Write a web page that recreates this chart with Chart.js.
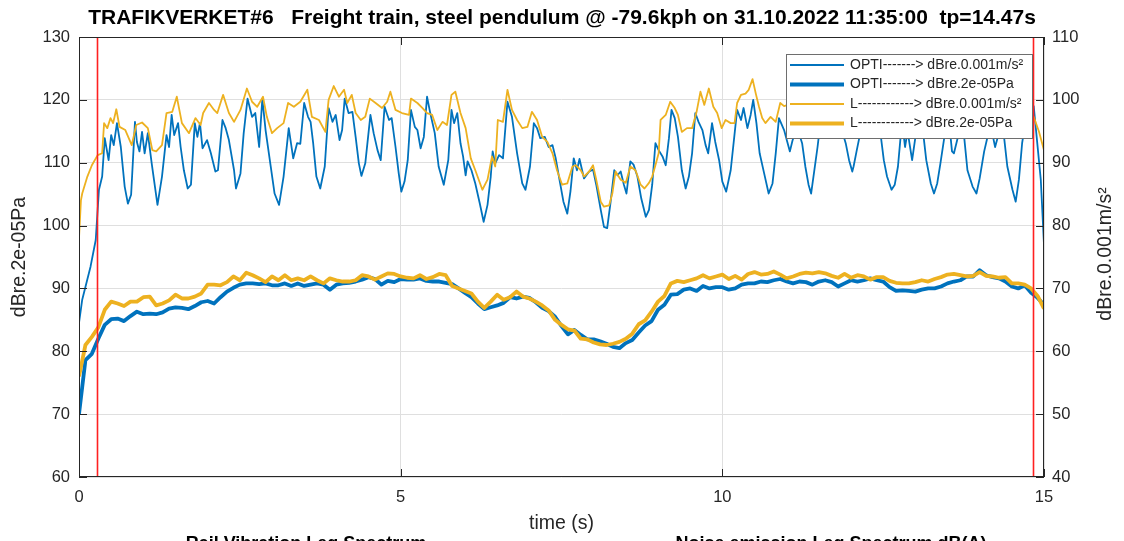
<!DOCTYPE html>
<html>
<head>
<meta charset="utf-8">
<script src="https://cdn.jsdelivr.net/npm/chart.js@4.4.1/dist/chart.umd.min.js"></script>
<style>
html, body { margin: 0; padding: 0; background: #fff; }
</style>
</head>
<body>
<canvas id="myChart" width="1124" height="541"></canvas>
<script>
// time step of the acoustic (left axis) traces, s
var dt = 0.1;

// OPTI, dBre.2e-05Pa (left axis), one value every 0.1 s from 0 to 15 s
var optiPa = [
    70.0, 78.6, 79.6, 82.0, 84.2, 85.1, 85.2, 84.8, 85.6, 86.3,
    85.9, 86.0, 85.9, 86.2, 86.8, 87.0, 86.9, 86.7, 87.2, 87.8,
    88.0, 87.6, 88.6, 89.5, 90.1, 90.6, 90.8, 90.8, 90.7, 90.8,
    90.5, 90.5, 90.8, 90.4, 90.8, 90.4, 90.6, 90.8, 90.6, 89.8,
    90.6, 90.8, 90.9, 91.1, 91.4, 91.8, 91.5, 90.6, 91.2, 91.0,
    91.5, 91.4, 91.4, 91.6, 91.2, 91.1, 91.1, 90.9, 90.7, 90.0,
    89.3, 88.6, 87.6, 86.7, 87.0, 87.3, 87.7, 88.6, 88.4, 88.7,
    88.5, 87.8, 86.9, 86.4, 85.5, 84.0, 82.7, 83.4, 82.6, 81.9,
    81.9, 81.6, 81.2, 80.7, 80.5, 81.3, 81.8, 83.0, 84.1, 84.8,
    86.6, 87.4, 89.0, 89.1, 89.8, 90.0, 89.6, 90.4, 90.0, 90.2,
    90.2, 89.8, 90.0, 90.6, 90.8, 90.8, 91.1, 91.0, 91.3, 91.5,
    91.1, 90.8, 91.1, 91.0, 90.6, 91.1, 91.3, 91.0, 90.3, 90.8,
    91.3, 91.1, 91.3, 91.6, 91.3, 91.1, 90.2, 89.6, 89.7, 89.6,
    89.5, 89.8, 90.0, 90.0, 90.3, 90.8, 91.1, 91.3, 91.9, 91.9,
    92.9, 92.1, 91.8, 91.6, 91.1, 90.3, 90.0, 90.5, 89.3, 88.5,
    87.4
];

// L, dBre.2e-05Pa (left axis), one value every 0.1 s
var lPa = [
    76.0, 81.0, 82.3, 83.8, 86.6, 87.9, 87.6, 87.2, 87.9, 87.9,
    88.6, 88.7, 87.3, 87.6, 88.1, 89.0, 88.4, 88.4, 88.7, 89.2,
    90.6, 90.6, 90.5, 91.0, 91.9, 91.3, 92.5, 92.1, 91.6, 91.0,
    91.9, 91.3, 92.1, 91.3, 91.6, 91.3, 91.9, 91.3, 90.8, 91.6,
    91.3, 91.1, 91.1, 91.3, 92.1, 91.9, 91.4, 91.9, 92.4, 92.3,
    91.9, 91.7, 91.6, 92.1, 91.5, 91.8, 92.3, 92.1, 90.4, 90.0,
    89.6, 89.2, 87.9, 86.9, 87.9, 89.0, 88.2, 88.6, 89.5, 88.7,
    88.4, 87.9, 87.3, 86.5, 85.0, 84.2, 83.5, 83.3, 82.0, 81.9,
    81.4, 81.1, 81.0, 81.2, 81.5, 82.0, 82.8, 84.3, 84.9, 86.3,
    87.9, 88.8, 90.8, 91.2, 91.0, 91.3, 91.6, 92.1, 91.6, 91.9,
    92.2, 91.5, 92.0, 91.4, 92.3, 92.6, 92.2, 92.3, 92.7, 92.2,
    91.6, 91.9, 92.3, 92.5, 92.4, 92.6, 92.4, 92.0, 91.7, 92.3,
    91.7, 92.1, 91.9, 91.4, 91.8, 91.8, 91.2, 90.9, 90.8, 90.8,
    91.0, 91.3, 91.1, 91.5, 91.8, 92.2, 92.3, 92.1, 91.9, 92.0,
    92.6, 92.0, 91.9, 91.7, 91.8, 90.8, 90.8, 90.6, 90.0, 88.8,
    86.8
];

// OPTI, dBre.0.001m/s² (right axis), [time s, level]
var optiVib = [
    [0.00,64.5],[0.05,68.2],[0.18,73.5],[0.26,77.7],[0.31,85.7],[0.36,87.8],[0.40,93.9],[0.46,90.4],
    [0.50,94.4],[0.54,92.8],[0.59,96.3],[0.65,92.5],[0.71,86.2],[0.76,83.5],[0.81,84.9],[0.87,96.5],
    [0.90,93.3],[0.94,91.8],[0.98,94.9],[1.02,91.5],[1.07,94.7],[1.13,89.9],[1.22,83.3],[1.29,87.8],
    [1.36,94.4],[1.40,92.5],[1.44,97.6],[1.48,94.4],[1.54,96.3],[1.58,92.5],[1.63,88.8],[1.69,85.9],
    [1.74,86.5],[1.80,96.3],[1.84,94.1],[1.88,96.3],[1.92,92.3],[1.99,93.6],[2.05,91.5],[2.12,88.6],
    [2.16,88.8],[2.23,96.8],[2.28,95.5],[2.33,93.6],[2.41,88.8],[2.44,85.9],[2.51,88.3],[2.56,94.7],
    [2.62,100.2],[2.69,97.3],[2.74,97.9],[2.80,92.5],[2.85,100.2],[2.90,95.2],[2.98,89.4],[3.04,85.1],
    [3.11,83.3],[3.18,87.8],[3.26,95.5],[3.33,90.7],[3.39,93.1],[3.44,93.0],[3.50,99.5],[3.56,97.3],
    [3.60,96.5],[3.64,93.1],[3.69,87.8],[3.75,85.9],[3.82,89.4],[3.88,98.7],[3.94,96.5],[3.99,97.6],
    [4.05,93.6],[4.09,95.2],[4.13,100.2],[4.19,97.9],[4.25,98.1],[4.30,94.1],[4.35,89.9],[4.39,87.9],
    [4.45,89.9],[4.53,97.6],[4.58,94.7],[4.64,92.0],[4.69,90.4],[4.75,98.9],[4.82,96.8],[4.86,97.1],
    [4.92,92.5],[4.97,88.3],[5.01,85.4],[5.06,87.0],[5.11,90.4],[5.16,98.4],[5.22,95.7],[5.26,95.2],
    [5.31,92.3],[5.36,94.1],[5.41,100.5],[5.46,97.9],[5.53,94.7],[5.59,89.4],[5.67,86.5],[5.74,90.4],
    [5.79,98.4],[5.83,96.3],[5.88,97.9],[5.93,93.1],[5.97,91.0],[6.01,88.0],[6.04,90.2],[6.10,88.8],
    [6.16,86.7],[6.23,83.5],[6.29,80.6],[6.35,83.3],[6.40,87.8],[6.43,91.8],[6.47,89.9],[6.53,91.2],
    [6.59,90.7],[6.66,99.7],[6.73,97.3],[6.81,91.5],[6.89,86.7],[6.94,85.7],[7.01,89.4],[7.07,96.3],
    [7.12,95.5],[7.17,93.9],[7.24,94.1],[7.30,92.5],[7.36,92.8],[7.41,90.7],[7.46,87.8],[7.53,83.8],
    [7.59,81.9],[7.64,85.5],[7.69,90.7],[7.74,88.8],[7.78,90.6],[7.85,87.5],[7.93,88.6],[7.99,88.9],
    [8.04,86.5],[8.11,82.5],[8.16,79.8],[8.21,79.6],[8.26,83.5],[8.32,88.8],[8.37,88.0],[8.42,88.6],
    [8.47,86.5],[8.51,85.1],[8.57,90.2],[8.62,89.7],[8.68,87.8],[8.74,84.3],[8.81,81.4],[8.86,82.5],
    [8.91,86.5],[8.96,93.1],[9.01,92.0],[9.07,91.0],[9.12,89.6],[9.17,93.9],[9.21,98.4],[9.26,97.1],
    [9.31,94.1],[9.37,88.8],[9.43,85.9],[9.48,87.8],[9.53,91.5],[9.58,97.9],[9.63,96.5],[9.69,95.2],
    [9.74,92.8],[9.78,91.5],[9.84,96.3],[9.89,93.3],[9.95,90.4],[10.00,87.0],[10.06,85.4],[10.13,88.8],
    [10.18,93.6],[10.23,98.4],[10.29,96.8],[10.33,98.7],[10.39,95.5],[10.44,97.6],[10.48,100.0],[10.53,96.3],
    [10.58,91.5],[10.65,88.3],[10.72,85.1],[10.78,86.7],[10.83,91.5],[10.88,97.1],[10.96,95.2],[11.01,93.3],
    [11.05,91.8],[11.09,93.5],[11.16,95.7],[11.24,93.1],[11.29,89.4],[11.34,86.5],[11.38,85.1],[11.43,88.8],
    [11.48,92.5],[11.53,96.8],[11.62,98.0],[11.72,95.0],[11.82,96.5],[11.92,93.0],[11.97,90.4],[12.02,88.6],
    [12.04,89.4],[12.09,92.0],[12.14,94.5],[12.30,98.0],[12.46,94.5],[12.51,90.4],[12.56,87.8],[12.63,85.7],
    [12.68,86.5],[12.73,89.4],[12.77,94.0],[12.80,96.0],[12.84,92.5],[12.88,95.0],[12.95,90.4],[13.00,94.0],
    [13.07,97.0],[13.13,94.0],[13.17,90.4],[13.24,86.7],[13.29,85.1],[13.34,86.7],[13.39,89.9],[13.45,94.0],
    [13.52,97.0],[13.57,91.8],[13.60,91.5],[13.66,94.0],[13.72,97.0],[13.76,94.0],[13.81,88.8],[13.89,86.2],
    [13.95,85.1],[14.00,87.5],[14.07,91.8],[14.12,94.0],[14.17,96.0],[14.21,94.0],[14.24,92.5],[14.28,94.0],
    [14.33,97.0],[14.38,94.0],[14.43,89.4],[14.51,85.7],[14.56,83.8],[14.61,87.3],[14.66,93.1],[14.72,97.0],
    [14.80,98.5],[14.84,99.0],[14.95,87.3],[15.00,77.0]
];

// L, dBre.0.001m/s² (right axis), [time s, level]
var lVib = [
    [0.00,78.0],[0.03,84.0],[0.05,85.1],[0.13,87.8],[0.20,89.6],[0.29,91.2],[0.36,91.5],[0.39,96.3],
    [0.44,95.5],[0.49,97.1],[0.53,96.3],[0.58,98.5],[0.63,95.7],[0.72,95.2],[0.82,92.8],[0.89,96.0],
    [0.98,96.4],[1.07,95.5],[1.14,92.0],[1.20,91.8],[1.29,92.8],[1.36,97.9],[1.45,98.1],[1.52,100.5],
    [1.60,96.3],[1.71,94.7],[1.81,97.1],[1.89,96.0],[1.93,97.9],[2.02,99.5],[2.10,98.4],[2.15,97.9],
    [2.24,100.8],[2.33,97.9],[2.41,96.5],[2.51,98.4],[2.61,101.8],[2.69,99.7],[2.77,98.9],[2.86,100.5],
    [2.92,97.3],[3.00,94.7],[3.08,95.5],[3.18,96.3],[3.25,99.5],[3.34,98.9],[3.44,99.7],[3.55,101.6],
    [3.62,97.3],[3.73,96.8],[3.83,94.9],[3.88,100.0],[3.96,102.2],[4.04,100.5],[4.12,101.6],[4.17,99.5],
    [4.24,100.8],[4.30,97.9],[4.38,96.8],[4.45,97.3],[4.52,100.2],[4.61,99.5],[4.71,98.7],[4.79,99.7],
    [4.84,101.3],[4.92,98.4],[5.02,97.9],[5.13,97.6],[5.16,100.2],[5.26,99.5],[5.34,98.7],[5.41,97.9],
    [5.49,97.6],[5.57,95.2],[5.65,96.5],[5.72,96.0],[5.79,100.8],[5.85,101.3],[5.93,97.9],[6.01,95.5],
    [6.09,90.7],[6.16,88.8],[6.27,85.7],[6.35,87.3],[6.42,91.0],[6.47,89.4],[6.51,96.8],[6.59,96.5],
    [6.66,101.6],[6.73,98.4],[6.81,96.8],[6.89,95.5],[6.97,95.7],[7.04,98.1],[7.12,96.8],[7.20,94.1],
    [7.28,93.3],[7.36,91.5],[7.43,88.8],[7.51,86.5],[7.59,86.7],[7.67,89.4],[7.72,89.6],[7.80,88.8],
    [7.85,87.8],[7.93,88.6],[7.99,89.6],[8.04,87.3],[8.11,83.8],[8.16,83.0],[8.24,83.2],[8.29,85.1],
    [8.34,88.6],[8.42,87.3],[8.50,86.8],[8.57,89.4],[8.65,88.8],[8.73,86.5],[8.79,85.9],[8.86,86.8],
    [8.91,87.8],[8.96,89.6],[9.01,91.5],[9.04,96.8],[9.12,97.6],[9.19,99.7],[9.26,98.7],[9.31,97.6],
    [9.37,94.9],[9.45,95.5],[9.53,95.5],[9.60,98.1],[9.66,101.3],[9.72,99.2],[9.79,101.8],[9.86,98.9],
    [9.92,97.9],[9.99,95.5],[10.05,96.8],[10.13,96.3],[10.19,96.3],[10.23,99.5],[10.29,100.8],[10.36,101.0],
    [10.41,101.6],[10.47,103.3],[10.52,101.0],[10.57,98.9],[10.62,97.1],[10.67,96.3],[10.75,97.3],[10.83,96.5],
    [10.90,99.5],[10.96,99.0],[11.10,99.5],[11.30,98.0],[11.50,100.0],[11.70,99.0],[11.90,100.5],[12.10,98.5],
    [12.30,100.0],[12.50,98.0],[12.70,99.5],[12.90,100.0],[13.10,98.5],[13.30,99.0],[13.50,100.5],[13.70,99.0],
    [13.90,101.0],[14.10,99.0],[14.30,100.0],[14.50,98.5],[14.70,100.5],[14.84,97.3],[14.92,95.0],[15.00,92.0]
];

// red markers: start / end of the passage window, s
var passMarks = [0.28, 14.83];

var blue = '#0072BD';
var gold = '#EDB120';
var ink = '#262626';
var fam = '"Liberation Sans", Arial, Helvetica, sans-serif';

function evenPoints(vals) {
    return vals.map(function (v, i) { return { x: +(i * dt).toFixed(2), y: v }; });
}
function pairPoints(pts) {
    return pts.map(function (p) { return { x: p[0], y: p[1] }; });
}

// MATLAB style box, inward ticks, red markers, legend inside the axes
var axesDecor = {
    id: 'axesDecor',
    afterDatasetsDraw: function (chart) {
        var ctx = chart.ctx, a = chart.chartArea, x = chart.scales.x, y = chart.scales.y;
        ctx.save();

        ctx.strokeStyle = '#ff2020';
        ctx.lineWidth = 1.6;
        passMarks.forEach(function (t) {
            var px = Math.round(x.getPixelForValue(t)) + 0.5;
            ctx.beginPath();
            ctx.moveTo(px, a.top);
            ctx.lineTo(px, a.bottom);
            ctx.stroke();
        });

        ctx.strokeStyle = ink;
        ctx.lineWidth = 1;
        ctx.beginPath();
        y.ticks.forEach(function (t) {
            var py = Math.round(y.getPixelForValue(t.value)) + 0.5;
            ctx.moveTo(a.left, py); ctx.lineTo(a.left + 8, py);
            ctx.moveTo(a.right, py); ctx.lineTo(a.right - 8, py);
        });
        x.ticks.forEach(function (t) {
            var px = Math.round(x.getPixelForValue(t.value)) + 0.5;
            ctx.moveTo(px, a.bottom); ctx.lineTo(px, a.bottom - 8);
            ctx.moveTo(px, a.top); ctx.lineTo(px, a.top + 8);
        });
        ctx.stroke();
        ctx.strokeRect(Math.round(a.left) + 0.5, Math.round(a.top) + 0.5,
            Math.round(a.right - a.left) - 1, Math.round(a.bottom - a.top) - 1);

        // legend
        var bx = a.right - 258, by = a.top + 17, bw = 246, bh = 84;
        ctx.fillStyle = '#fff';
        ctx.fillRect(bx, by, bw, bh);
        ctx.strokeStyle = '#6e6e6e';
        ctx.strokeRect(bx + 0.5, by + 0.5, bw, bh);
        ctx.font = '14px ' + fam;
        ctx.textBaseline = 'middle';
        ctx.fillStyle = ink;
        chart.data.datasets.forEach(function (ds, i) {
            var ly = by + 11 + i * 19.5;
            ctx.strokeStyle = ds.borderColor;
            ctx.lineWidth = ds.borderWidth;
            ctx.beginPath();
            ctx.moveTo(bx + 4, ly);
            ctx.lineTo(bx + 58, ly);
            ctx.stroke();
            ctx.fillText(ds.label, bx + 64, ly);
        });
        ctx.restore();
    },
    afterDraw: function (chart) {
        var ctx = chart.ctx, a = chart.chartArea;
        ctx.save();
        // right axis label, read bottom to top like the left one
        ctx.font = '19.5px ' + fam;
        ctx.fillStyle = ink;
        ctx.textAlign = 'center';
        ctx.textBaseline = 'middle';
        ctx.translate(1106, (a.top + a.bottom) / 2 - 3);
        ctx.rotate(-Math.PI / 2);
        ctx.fillText('dBre.0.001m/s²', 0, 0);
        ctx.restore();

        // titles of the subplots below, cut by the image edge
        ctx.save();
        ctx.font = 'bold 18px ' + fam;
        ctx.fillStyle = '#000';
        ctx.textAlign = 'center';
        ctx.textBaseline = 'alphabetic';
        ctx.fillText('Rail Vibration Leq Spectrum', 306, 549);
        ctx.fillText('Noise emission Leq Spectrum dB(A)', 831, 549);
        ctx.restore();
    }
};

var ctx = document.getElementById('myChart').getContext('2d');
var myChart = new Chart(ctx, {
    type: 'line',
    data: {
        datasets: [{
            label: 'OPTI-------> dBre.0.001m/s²',
            data: pairPoints(optiVib),
            yAxisID: 'y1',
            borderColor: blue,
            borderWidth: 1.8,
            order: 3
        }, {
            label: 'OPTI-------> dBre.2e-05Pa',
            data: evenPoints(optiPa),
            yAxisID: 'y',
            borderColor: blue,
            borderWidth: 3.8,
            order: 2
        }, {
            label: 'L------------> dBre.0.001m/s²',
            data: pairPoints(lVib),
            yAxisID: 'y1',
            borderColor: gold,
            borderWidth: 1.8,
            order: 1
        }, {
            label: 'L------------> dBre.2e-05Pa',
            data: evenPoints(lPa),
            yAxisID: 'y',
            borderColor: gold,
            borderWidth: 3.8,
            order: 0
        }]
    },
    options: {
        responsive: false,
        animation: false,
        events: [],
        elements: {
            point: { radius: 0 },
            line: { tension: 0, borderJoinStyle: 'round' }
        },
        layout: { padding: 0 },
        plugins: {
            legend: { display: false },
            tooltip: { enabled: false },
            title: {
                display: true,
                text: 'TRAFIKVERKET#6   Freight train, steel pendulum @ -79.6kph on 31.10.2022 11:35:00  tp=14.47s',
                color: '#000',
                font: { family: fam, size: 21, weight: 'bold', lineHeight: 1.2 },
                padding: { top: 6, bottom: 5.8 }
            }
        },
        scales: {
            x: {
                type: 'linear',
                min: 0,
                max: 15,
                ticks: { stepSize: 5, color: ink, font: { family: fam, size: 16.5 }, padding: 11, maxRotation: 0 },
                grid: { color: '#dfdfdf', drawTicks: false },
                border: { display: false },
                title: { display: true, text: 'time (s)', color: ink, font: { family: fam, size: 19.5 }, padding: { top: 0, bottom: 6 } },
                afterFit: function (s) { s.height = 64; }
            },
            y: {
                position: 'left',
                min: 60,
                max: 130,
                ticks: { stepSize: 10, color: ink, font: { family: fam, size: 16.5 }, padding: 9 },
                grid: { color: '#dfdfdf', drawTicks: false },
                border: { display: false },
                title: { display: true, text: 'dBre.2e-05Pa', color: ink, font: { family: fam, size: 19.5 }, padding: { top: 8, bottom: 0 } },
                afterFit: function (s) { s.width = 79; }
            },
            y1: {
                position: 'right',
                min: 40,
                max: 110,
                ticks: { stepSize: 10, color: ink, font: { family: fam, size: 16.5 }, padding: 8 },
                grid: { drawOnChartArea: false, drawTicks: false },
                border: { display: false },
                afterFit: function (s) { s.width = 80; }
            }
        }
    },
    plugins: [axesDecor]
});
</script>
</body>
</html>
